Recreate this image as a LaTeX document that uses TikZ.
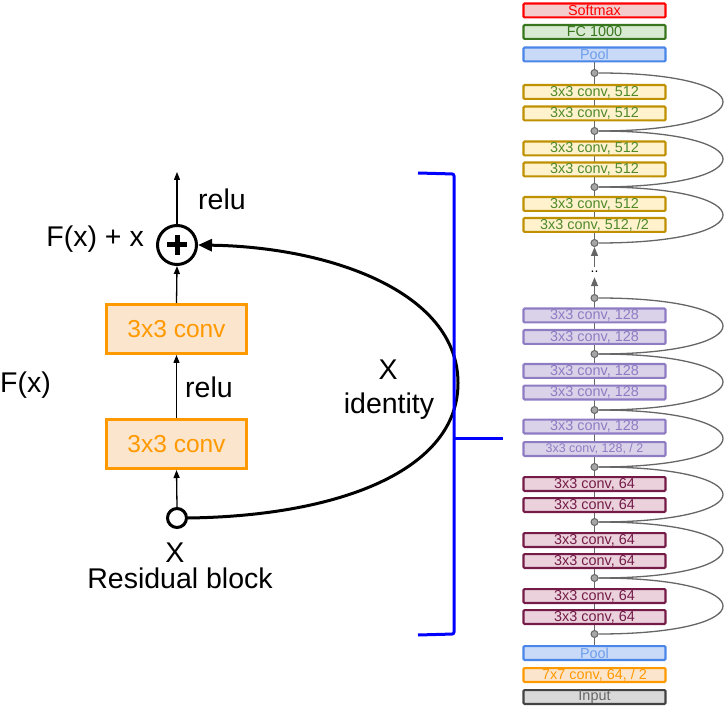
\documentclass[tikz,border=0pt]{standalone}
\usepackage{fontspec}
\setmainfont{Liberation Sans}
\definecolor{convorange}{HTML}{FF9900}
\definecolor{convfill}{HTML}{FCE5CD}
\definecolor{smaxred}{HTML}{FF0000}
\definecolor{smaxfill}{HTML}{F4CCCC}
\definecolor{fcgreen}{HTML}{38761D}
\definecolor{fcfill}{HTML}{D9EAD3}
\definecolor{poolblue}{HTML}{4A86E8}
\definecolor{pooltext}{HTML}{6D9EEB}
\definecolor{poolfill}{HTML}{C9DAF8}
\definecolor{gold}{HTML}{BF9000}
\definecolor{goldfill}{HTML}{FFF2CC}
\definecolor{goldtext}{HTML}{4F8A2B}
\definecolor{lilac}{HTML}{8E7CC3}
\definecolor{lilacfill}{HTML}{D9D2E9}
\definecolor{plum}{HTML}{741B47}
\definecolor{plumfill}{HTML}{EAD1DC}
\definecolor{inputgray}{HTML}{434343}
\definecolor{inputfill}{HTML}{D9D9D9}
\definecolor{inputtext}{HTML}{666666}
\definecolor{wire}{HTML}{666666}
\definecolor{junction}{HTML}{A6A6A6}
\definecolor{bracketblue}{HTML}{0000FF}
\usetikzlibrary{arrows.meta,backgrounds}

\begin{document}
\begin{tikzpicture}[x=1pt,y=-1pt,
    layer/.style={draw,line width=2.2pt,rounded corners=1pt,minimum width=142pt,minimum height=13.8pt,inner sep=0pt,font=\fontsize{14.4}{16}\selectfont},
    smax/.style={layer,draw=smaxred,fill=smaxfill,text=smaxred},
    fclayer/.style={layer,draw=fcgreen,fill=fcfill,text=fcgreen},
    poollayer/.style={layer,draw=poolblue,fill=poolfill,text=pooltext},
    convfive/.style={layer,draw=gold,fill=goldfill,text=goldtext},
    convone/.style={layer,draw=lilac,fill=lilacfill,text=lilac},
    convsix/.style={layer,draw=plum,fill=plumfill,text=plum},
    convseven/.style={layer,draw=convorange,fill=convfill,text=convorange},
    inputlayer/.style={layer,draw=inputgray,fill=inputfill,text=inputtext},
    joint/.style={circle,draw=wire,fill=junction,line width=1pt,minimum size=7pt,inner sep=0pt},
    blockbox/.style={draw=convorange,fill=convfill,text=convorange,line width=3pt,minimum width=140pt,minimum height=49pt,inner sep=0pt,font=\fontsize{24.5}{25}\selectfont},
    lbl/.style={font=\fontsize{28.5}{29}\selectfont,inner sep=0pt},
    thin/.style={line width=1.3pt,-{Triangle[length=8pt,width=6pt]}}]
  \useasboundingbox (0,0) rectangle (728,708);

  \node[circle,draw,line width=3pt,minimum size=39pt,inner sep=0pt] (sum) at (177,245) {};
  \draw[line width=5pt] (sum.center) ++(-10,0) -- ++(20,0);
  \draw[line width=5pt] (sum.center) ++(0,-10) -- ++(0,20);
  \node[blockbox] (conv2) at (176.5,329) {3x3 conv};
  \node[blockbox] (conv1) at (176.5,444) {3x3 conv};
  \node[circle,draw,line width=3pt,minimum size=19pt,inner sep=0pt] (xin) at (177,518) {};
  \coordinate (out) at (177,172);

  \draw[thin] (xin.north) -- (conv1.south);
  \draw[thin] (conv1.north) -- (conv2.south);
  \draw[thin] (conv2.north) -- (sum.south);
  \draw[thin] (sum.north) -- (out);
  \draw[line width=3pt,-{Triangle[length=14pt,width=12pt]}] (xin.east)
    .. controls (340,516) and (458,470) .. (458,383)
    .. controls (458,292) and (330,247) .. (sum.east);

  \node[lbl,anchor=base west] (relutop) at (198,210) {relu};
  \node[lbl,anchor=base east] (fsum) at (144,247) {F(x) + x};
  \node[lbl,anchor=base west] (relumid) at (185,397) {relu};
  \node[lbl,anchor=base west] (fx) at (0,392) {F(x)};
  \node[lbl,anchor=base] (xid) at (388,380) {X};
  \node[lbl,anchor=base] (ident) at (389,413) {identity};
  \node[lbl,anchor=base] (xlab) at (175,562) {X};
  \node[lbl,anchor=base] (title) at (180,588) {Residual block};

  \draw[bracketblue,line width=3pt,rounded corners=2pt] (418,173) -- (454,174) -- (454,634) -- (418,635);
  \draw[bracketblue,line width=3pt] (454,438) -- (503,438);

  \node[smax] (sm) at (594.5,10.5) {Softmax};
  \node[fclayer] (fc) at (594.5,32) {FC 1000};
  \node[poollayer] (pooltop) at (594.5,54.5) {Pool};
  \node[joint] (j1) at (594.5,73) {};
  \node[convfive] (c5a) at (594.5,92) {3x3 conv, 512};
  \node[convfive] (c5b) at (594.5,113.5) {3x3 conv, 512};
  \node[joint] (j2) at (594.5,131) {};
  \node[convfive] (c5c) at (594.5,148.5) {3x3 conv, 512};
  \node[convfive] (c5d) at (594.5,169.5) {3x3 conv, 512};
  \node[joint] (j3) at (594.5,187) {};
  \node[convfive] (c5e) at (594.5,204) {3x3 conv, 512};
  \node[convfive] (c5f) at (594.5,225) {3x3 conv, 512, /2};
  \node[joint] (j4) at (594.5,243) {};
  \node[inner sep=0pt,minimum height=10pt,font=\fontsize{14}{16}\selectfont] (dots) at (594.5,272) {..};
  \node[joint] (j5) at (594.5,298) {};
  \node[convone] (c1a) at (594.5,315.5) {3x3 conv, 128};
  \node[convone] (c1b) at (594.5,337) {3x3 conv, 128};
  \node[joint] (j6) at (594.5,354) {};
  \node[convone] (c1c) at (594.5,371) {3x3 conv, 128};
  \node[convone] (c1d) at (594.5,392.5) {3x3 conv, 128};
  \node[joint] (j7) at (594.5,410) {};
  \node[convone] (c1e) at (594.5,426.5) {3x3 conv, 128};
  \node[convone,font=\fontsize{12.5}{14}\selectfont] (c1f) at (594.5,449) {3x3 conv, 128, / 2};
  \node[joint] (j8) at (594.5,467) {};
  \node[convsix] (c6a) at (594.5,484) {3x3 conv, 64};
  \node[convsix] (c6b) at (594.5,505) {3x3 conv, 64};
  \node[joint] (j9) at (594.5,522) {};
  \node[convsix] (c6c) at (594.5,540) {3x3 conv, 64};
  \node[convsix] (c6d) at (594.5,561) {3x3 conv, 64};
  \node[joint] (j10) at (594.5,578) {};
  \node[convsix] (c6e) at (594.5,596) {3x3 conv, 64};
  \node[convsix] (c6f) at (594.5,617) {3x3 conv, 64};
  \node[joint] (j11) at (594.5,634) {};
  \node[poollayer] (poolbot) at (594.5,653) {Pool};
  \node[convseven] (c7) at (594.5,675) {7x7 conv, 64, / 2};
  \node[inputlayer] (inp) at (594.5,697) {Input};

  \begin{scope}[on background layer]
    \draw[wire,line width=1.3pt] (pooltop.south) -- (j4);
    \draw[wire,line width=1.3pt] (j5) -- (j11) -- (poolbot.north);
  \end{scope}
  \draw[wire,line width=1.3pt,-{Triangle[length=9pt,width=7pt]}] (j5) -- (dots.south);
  \draw[wire,line width=1.3pt,-{Triangle[length=9pt,width=7pt]}] (dots.north) -- (j4);

  \draw[wire,line width=1.3pt] (j1.east) .. controls +(166,0) and +(166,0) .. (j2.east);
  \draw[wire,line width=1.3pt] (j2.east) .. controls +(166,0) and +(166,0) .. (j3.east);
  \draw[wire,line width=1.3pt] (j3.east) .. controls +(166,0) and +(166,0) .. (j4.east);
  \draw[wire,line width=1.3pt] (j5.east) .. controls +(166,0) and +(166,0) .. (j6.east);
  \draw[wire,line width=1.3pt] (j6.east) .. controls +(166,0) and +(166,0) .. (j7.east);
  \draw[wire,line width=1.3pt] (j7.east) .. controls +(166,0) and +(166,0) .. (j8.east);
  \draw[wire,line width=1.3pt] (j8.east) .. controls +(166,0) and +(166,0) .. (j9.east);
  \draw[wire,line width=1.3pt] (j9.east) .. controls +(166,0) and +(166,0) .. (j10.east);
  \draw[wire,line width=1.3pt] (j10.east) .. controls +(166,0) and +(166,0) .. (j11.east);
\end{tikzpicture}
\end{document}
